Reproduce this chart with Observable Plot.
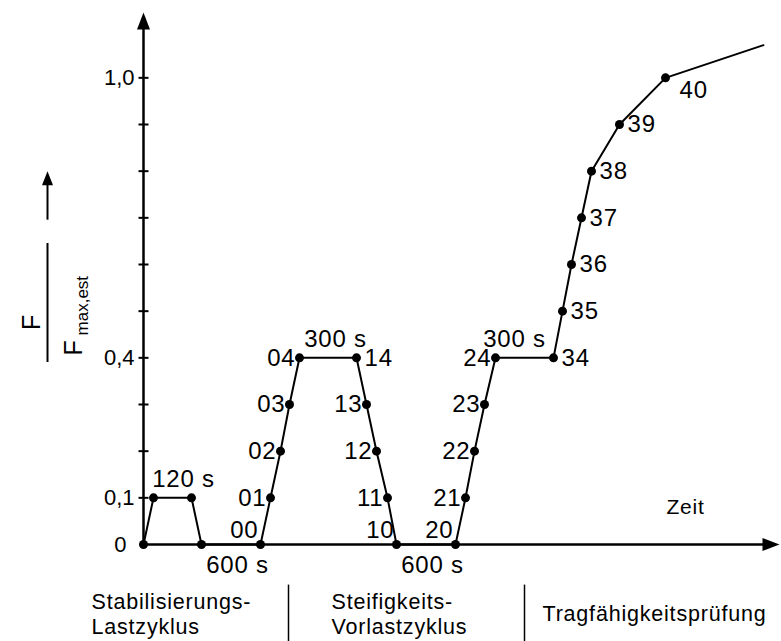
<!DOCTYPE html>
<html>
<head>
<meta charset="utf-8">
<script src="https://cdn.jsdelivr.net/npm/d3@7"></script>
<script src="https://cdn.jsdelivr.net/npm/@observablehq/plot@0.6"></script>
<style>
  html, body { margin: 0; padding: 0; background: #fff; }
</style>
</head>
<body>
<div id="chart"></div>
<script>
// ---- data ----
const times  = [0, 10, 48, 58, 117, 127, 137, 146, 156, 213, 223, 233, 244, 253, 312, 322, 331, 341, 352, 410, 419, 428, 438, 448, 476, 522, 620];
const loads  = [0, 0.1, 0.1, 0, 0, 0.1, 0.2, 0.3, 0.4, 0.4, 0.3, 0.2, 0.1, 0, 0, 0.1, 0.2, 0.3, 0.4, 0.4, 0.5, 0.6, 0.7, 0.8, 0.9, 1.0, 1.07];
const pointLabels = ["", "", "", "", "00", "01", "02", "03", "04", "14", "13", "12", "11", "10", "20", "21", "22", "23", "24", "34", "35", "36", "37", "38", "39", "40", ""];
const labelSide   = ["", "", "", "", "ul", "l", "l", "l", "l", "r", "l", "l", "l", "ul", "ul", "l", "l", "l", "l", "r", "r", "r", "r", "r", "r", "br", ""];
const hasDot      = [1,1,1,1,1,1,1,1,1,1,1,1,1,1,1,1,1,1,1,1,1,1,1,1,1,1,0];

const yMinorTicks = [0.1, 0.2, 0.3, 0.4, 0.5, 0.6, 0.7, 0.8, 0.9, 1.0];
const yTickValues = [0, 0.1, 0.4, 1.0];
const yTickTexts  = ["0", "0,1", "0,4", "1,0"];

const holdTexts = ["120 s", "300 s", "300 s"];
const holdTimes = [40, 192, 371];
const holdLoads = [0.1, 0.4, 0.4];

const pauseTexts = ["600 s", "600 s"];
const pauseTimes = [94, 289];

const phaseBounds = [145, 381];
const phaseNames  = ["Stabilisierungs-\nLastzyklus", "Steifigkeits-\nVorlastzyklus", "Tragfähigkeitsprüfung"];
const phaseStarts = [-52, 188, 399];

const xAxisTitle = "Zeit";
const yNumerator = "F";
const yDenominator = "F";
const yDenomSub = "max,est";

// ---- build tables ----
const pts = times.map((t, i) => ({t, v: loads[i], label: pointLabels[i], side: labelSide[i], dot: hasDot[i]}));
const holds = holdTexts.map((s, i) => ({s, t: holdTimes[i], v: holdLoads[i]}));
const pauses = pauseTexts.map((s, i) => ({s, t: pauseTimes[i]}));
const phases = phaseNames.map((s, i) => ({s, t: phaseStarts[i]}));
const tickLabs = yTickValues.map((v, i) => ({v, s: yTickTexts[i]}));

const FONT = "'Liberation Sans', Arial, Helvetica, sans-serif";

const tickSym = {draw(ctx) { ctx.moveTo(-5, 0); ctx.lineTo(5, 0); }};
const arrowUp = {draw(ctx) { ctx.moveTo(0, 0); ctx.lineTo(-6.5, 17); ctx.lineTo(6.5, 17); ctx.closePath(); }};
const arrowRight = {draw(ctx) { ctx.moveTo(0, 0); ctx.lineTo(-17, -6.5); ctx.lineTo(-17, 6.5); ctx.closePath(); }};
const arrowUpSmall = {draw(ctx) { ctx.moveTo(0, 0); ctx.lineTo(-5.5, 14); ctx.lineTo(5.5, 14); ctx.closePath(); }};

const fs = 24;

const chart = Plot.plot({
  width: 781,
  height: 641,
  marginLeft: 143,
  marginRight: 2,
  marginTop: 12,
  marginBottom: 97,
  x: {domain: [0, 636], axis: null},
  y: {domain: [0, 1.14], axis: null},
  style: {fontFamily: FONT, fontSize: fs + "px", color: "black", background: "white", overflow: "visible", letterSpacing: "0.8px"},
  marks: [
    // axes
    Plot.ruleX([0], {y1: 0, y2: 1.11, stroke: "black", strokeWidth: 2.5}),
    Plot.ruleY([0], {x1: 0, x2: 625, stroke: "black", strokeWidth: 2.5}),
    Plot.dot([0], {x: 0, y: 1.14, symbol: arrowUp, fill: "black", stroke: "none"}),
    Plot.dot([0], {x: 636, y: 0, symbol: arrowRight, fill: "black", stroke: "none"}),
    Plot.dot(yMinorTicks, {x: 0, y: d => d, symbol: tickSym, fill: "none", stroke: "black", strokeWidth: 2}),
    Plot.text(tickLabs.filter(d => d.v > 0), {x: 0, y: "v", text: "s", textAnchor: "end", dx: -9, fontSize: 22}),
    Plot.text(tickLabs.filter(d => d.v === 0), {x: 0, y: "v", text: "s", textAnchor: "end", dx: -17, fontSize: 22}),

    // y axis title (fraction, rotated)
    Plot.text([yNumerator], {x: 0, y: 0.476, text: d => d, rotate: -90, dx: -112, fontSize: 25, textAnchor: "middle", lineAnchor: "middle"}),
    Plot.ruleX([0], {y1: 0.39, y2: 0.645, dx: -96, stroke: "black", strokeWidth: 2}),
    Plot.ruleX([0], {y1: 0.695, y2: 0.77, dx: -96, stroke: "black", strokeWidth: 2}),
    Plot.dot([0], {x: 0, y: 0.80, dx: -96, symbol: arrowUpSmall, fill: "black", stroke: "none"}),
    Plot.text([yDenominator], {x: 0, y: 0.405, text: d => d, rotate: -90, dx: -62, fontSize: 25, textAnchor: "start", lineAnchor: "bottom"}),
    Plot.text([yDenomSub], {x: 0, y: 0.448, text: d => d, rotate: -90, dx: -56, fontSize: 17, textAnchor: "start", lineAnchor: "bottom"}),

    // load path
    Plot.line(pts, {x: "t", y: "v", stroke: "black", strokeWidth: 2}),
    Plot.dot(pts.filter(d => d.dot), {x: "t", y: "v", r: 4.5, fill: "black", stroke: "none"}),

    // point labels
    Plot.text(pts.filter(d => d.side === "l"), {x: "t", y: "v", text: "label", textAnchor: "end", dx: -4, fontSize: fs}),
    Plot.text(pts.filter(d => d.side === "ul"), {x: "t", y: "v", text: "label", textAnchor: "end", dx: -2, dy: -14, fontSize: fs}),
    Plot.text(pts.filter(d => d.side === "r"), {x: "t", y: "v", text: "label", textAnchor: "start", dx: 8, fontSize: fs}),
    Plot.text(pts.filter(d => d.side === "br"), {x: "t", y: "v", text: "label", textAnchor: "start", dx: 14, dy: 12, fontSize: fs}),

    // durations
    Plot.text(holds, {x: "t", y: "v", text: "s", dy: -19, fontSize: fs}),
    Plot.text(pauses, {x: "t", y: 0, text: "s", dy: 21, fontSize: fs}),

    // x title
    Plot.text([xAxisTitle], {x: 542, y: 0.08, text: d => d, fontSize: 21}),

    // phases
    Plot.ruleX(phaseBounds, {y1: -0.087, y2: -0.21, stroke: "black", strokeWidth: 1.5}),
    Plot.text(phases, {x: "t", y: -0.147, text: "s", textAnchor: "start", lineHeight: 1.18, fontSize: 21.5})
  ]
});
// keep the rotated axis title and tick labels unspaced
d3.select(chart).selectAll("text").filter(function() {
  const t = this.textContent;
  return t === yNumerator || t === yDenomSub || yTickTexts.includes(t);
}).style("letter-spacing", "0px");
document.getElementById("chart").appendChild(chart);
</script>
</body>
</html>
